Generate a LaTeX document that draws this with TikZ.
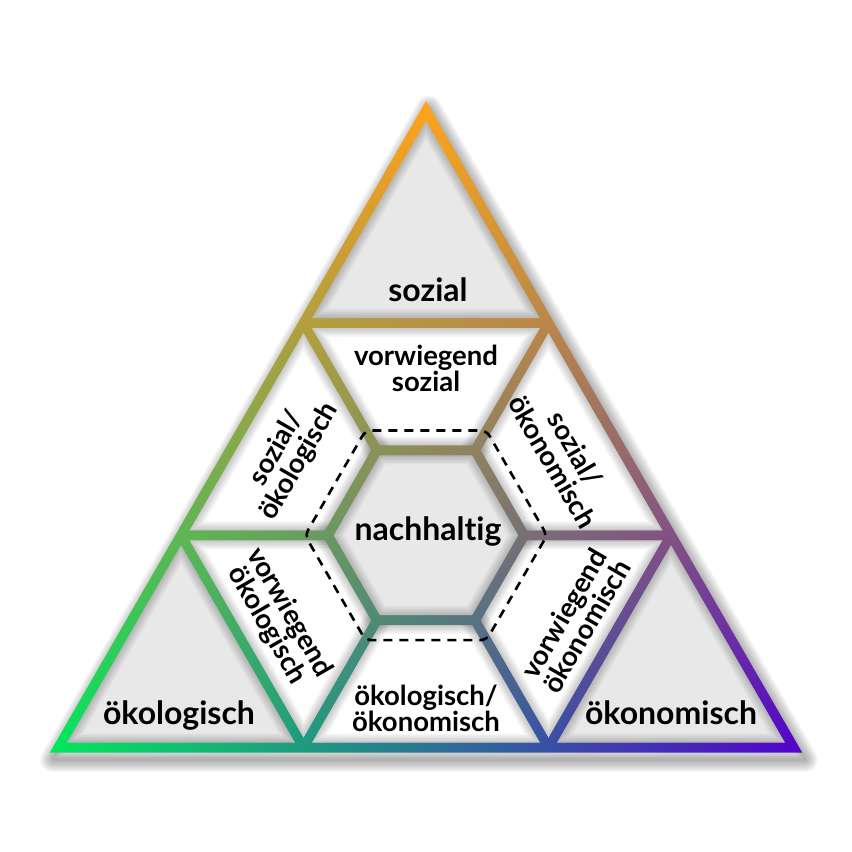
\documentclass[tikz,border=0pt]{standalone}
\usepackage{fontspec}
\setmainfont{Lato}[Ligatures=NoCommon]
\usetikzlibrary{calc, shadings}

\definecolor{sozial}{HTML}{FFA31A}
\definecolor{oekologisch}{HTML}{00E85C}
\definecolor{oekonomisch}{HTML}{5200CC}
\definecolor{feld}{HTML}{E8E8E8}

% one of the nine small triangles, shrunk by half a line width
\newcommand{\zelle}[5]{%
  \coordinate (#1) at (barycentric cs:#3=1,#4=1,#5=1);
  \coordinate (#1-1) at ($(#1)!.9293!(#3)$);
  \coordinate (#1-2) at ($(#1)!.9293!(#4)$);
  \coordinate (#1-3) at ($(#1)!.9293!(#5)$);
  \fill[#2] (#1-1) -- (#1-2) -- (#1-3) -- cycle;
  \begin{scope}
    \clip (#1-1) -- (#1-2) -- (#1-3) -- cycle;
    \foreach \k in {1,...,6}
      \draw[schatten, line width=3*\k] (#1-1) -- (#1-2) -- (#1-3) -- cycle;
  \end{scope}}

\begin{document}
\begin{tikzpicture}[x=1pt, y=-1pt]
\tikzstyle{schatten}=[black, opacity=.035, line join=round]
\tikzstyle{verlauf}=[upper left=sozial, upper right=sozial, lower left=oekologisch, lower right=oekonomisch]
\tikzstyle{klein}=[font=\bfseries\fontsize{27.5}{26}\selectfont, align=center, inner sep=0pt]
\tikzstyle{gross}=[font=\bfseries\fontsize{32}{32}\selectfont, inner sep=0pt, anchor=base]
\useasboundingbox (0,0) rectangle (852,852);

\coordinate (A) at (426,111);
\coordinate (B) at (58.5,747.5);
\coordinate (C) at (793.5,747.5);
\coordinate (M) at (barycentric cs:A=1,B=1,C=1);
\coordinate (ab1) at ($(A)!1/3!(B)$);
\coordinate (ab2) at ($(A)!2/3!(B)$);
\coordinate (ac1) at ($(A)!1/3!(C)$);
\coordinate (ac2) at ($(A)!2/3!(C)$);
\coordinate (bc1) at ($(B)!1/3!(C)$);
\coordinate (bc2) at ($(B)!2/3!(C)$);
\foreach \p in {A,B,C}
  \coordinate (\p0) at ($(M)!1.0236!(\p)$);
% hexagons: inner, middle, outer edge of the frame, dashed
\foreach \r/\n in {92.2/i, 98/h, 103.8/o, 121/d}
  \foreach \a in {0,60,...,300}
    \coordinate (\n\a) at ($(M)+(\a:\r)$);

% shadow under the frame
\foreach \k in {1,...,10}
  \draw[schatten, line width=2.5*\k] ([shift={(3,7)}]A0) -- ([shift={(3,7)}]B0) -- ([shift={(3,7)}]C0) -- cycle;

\shade[verlauf] (A0) -- (B0) -- (C0) -- cycle;

\zelle{t1}{feld}{A}{ab1}{ac1}
\zelle{t2}{white}{ab1}{ab2}{M}
\zelle{t3}{white}{ab1}{ac1}{M}
\zelle{t4}{white}{ac1}{M}{ac2}
\zelle{t5}{feld}{ab2}{B}{bc1}
\zelle{t6}{white}{ab2}{M}{bc1}
\zelle{t7}{white}{M}{bc1}{bc2}
\zelle{t8}{white}{M}{ac2}{bc2}
\zelle{t9}{feld}{ac2}{bc2}{C}

% hexagon in the middle
\begin{scope}
  \clip (t2-1) -- (t2-2) -- (t2-3) -- cycle (t3-1) -- (t3-2) -- (t3-3) -- cycle
        (t4-1) -- (t4-2) -- (t4-3) -- cycle (t6-1) -- (t6-2) -- (t6-3) -- cycle
        (t7-1) -- (t7-2) -- (t7-3) -- cycle (t8-1) -- (t8-2) -- (t8-3) -- cycle;
  \foreach \k in {1,...,6}
    \draw[schatten, line width=3*\k] (o0) -- (o60) -- (o120) -- (o180) -- (o240) -- (o300) -- cycle;
\end{scope}
\begin{scope}
  \clip (o0) -- (o60) -- (o120) -- (o180) -- (o240) -- (o300) -- cycle;
  \shade[verlauf] (A0) -- (B0) -- (C0) -- cycle;
\end{scope}
\fill[feld] (i0) -- (i60) -- (i120) -- (i180) -- (i240) -- (i300) -- cycle;
\begin{scope}
  \clip (i0) -- (i60) -- (i120) -- (i180) -- (i240) -- (i300) -- cycle;
  \foreach \k in {1,...,6}
    \draw[schatten, line width=3*\k] (i0) -- (i60) -- (i120) -- (i180) -- (i240) -- (i300) -- cycle;
\end{scope}
\draw[dash pattern=on 9pt off 7pt, line width=2.6, rounded corners=6] (d0) -- (d60) -- (d120) -- (d180) -- (d240) -- (d300) -- cycle;

\node[gross] (soz) at (428,301) {sozial};
\node[gross] (oekol) at (179,724) {ökologisch};
\node[gross] (oekon) at (671,724) {ökonomisch};
\node[gross] (nach) at (428,540) {nachhaltig};
\node[klein] (vsoz) at (426,368) {vorwiegend\\sozial};
\node[klein, rotate=60] (soek) at (288,455) {sozial/\\ökologisch};
\node[klein, rotate=-60] (sokn) at (564,455) {sozial/\\ökonomisch};
\node[klein, rotate=-60] (voek) at (278,619) {vorwiegend\\ökologisch};
\node[klein, rotate=60] (vokn) at (575,620) {vorwiegend\\ökonomisch};
\node[klein] (oeoe) at (426,708) {ökologisch/\\ökonomisch};

\end{tikzpicture}
\end{document}
